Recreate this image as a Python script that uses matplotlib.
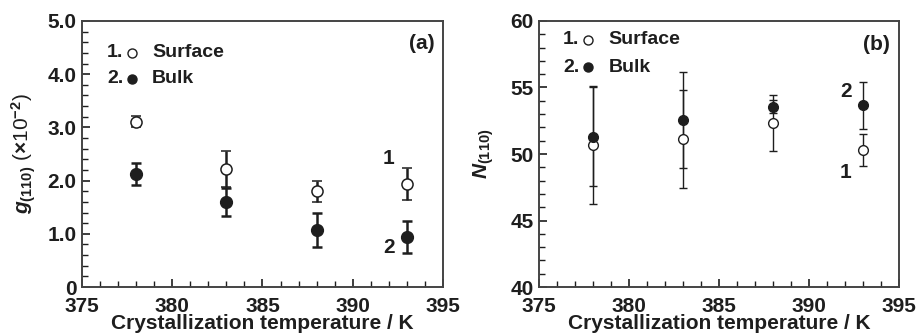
import matplotlib
matplotlib.use('Agg')
import matplotlib.pyplot as plt
from matplotlib.ticker import MultipleLocator

plt.rcParams['font.family'] = 'Liberation Sans'
plt.rcParams['font.weight'] = 'bold'
plt.rcParams['mathtext.fontset'] = 'custom'
plt.rcParams['mathtext.rm'] = 'Liberation Sans:bold'
plt.rcParams['mathtext.it'] = 'Liberation Sans:italic:bold'

temps = [378, 383, 388, 393]

# panel (a): g(110) x 10^-2
g_surface = [3.11, 2.22, 1.80, 1.93]
g_surface_err = [0.10, 0.34, 0.20, 0.30]
g_bulk = [2.13, 1.60, 1.07, 0.94]
g_bulk_err = [0.21, 0.27, 0.32, 0.30]

# panel (b): N(110)
n_surface = [50.70, 51.12, 52.35, 50.32]
n_surface_err = [4.45, 3.70, 2.10, 1.20]
n_bulk = [51.30, 52.55, 53.56, 53.66]
n_bulk_err = [3.70, 3.60, 0.50, 1.75]

col = '#1e1e1e'
fig = plt.figure(figsize=(9.17, 3.33), dpi=100)
axA = fig.add_axes([0.0894, 0.138, 0.3937, 0.799])
axB = fig.add_axes([0.5878, 0.138, 0.3926, 0.799])


def style(ax):
    ax.set_xlim(375, 395)
    ax.xaxis.set_major_locator(MultipleLocator(5))
    ax.xaxis.set_minor_locator(MultipleLocator(1))
    ax.tick_params(which='both', direction='in', top=False, right=False,
                   colors=col, labelsize=15)
    ax.tick_params(axis='x', pad=7)
    ax.tick_params(axis='y', pad=4)
    ax.tick_params(which='major', length=6, width=1.2)
    ax.tick_params(which='minor', length=4, width=1.0)
    for s in ax.spines.values():
        s.set_color('#444444')
        s.set_linewidth(1.4)
    ax.set_xlabel('Crystallization temperature / K', fontsize=15,
                  fontweight='bold', color=col)
    ax.xaxis.set_label_coords(0.5, -0.103)


# (a)
axA.errorbar(temps, g_surface, yerr=g_surface_err, fmt='o', mfc='white',
             mec=col, ecolor=col, ms=8, mew=1.1, elinewidth=1.8, capsize=3.5,
             capthick=1.8)
axA.errorbar(temps, g_bulk, yerr=g_bulk_err, fmt='o', mfc=col, mec=col,
             ecolor=col, ms=8.5, elinewidth=1.8, capsize=3.5, capthick=1.8)
style(axA)
axA.set_ylim(0, 5)
axA.yaxis.set_minor_locator(MultipleLocator(0.2))
axA.set_yticks([0, 1, 2, 3, 4, 5])
axA.set_yticklabels(['0', '1.0', '2.0', '3.0', '4.0', '5.0'])
axA.set_ylabel(r'$g_{(110)}$' + ' (' + r'$\times$' + '10$^{-2}$)', fontsize=15,
               color=col, labelpad=7)
axA.text(0.978, 0.917, '(a)', transform=axA.transAxes, ha='right',
         va='center', fontsize=15, color=col)
axA.text(392.0, 2.42, '1', ha='center', va='center', fontsize=15, color=col)
axA.text(392.0, 0.75, '2', ha='center', va='center', fontsize=15, color=col)

# (b)
axB.errorbar(temps, n_surface, yerr=n_surface_err, fmt='o', mfc='white',
             mec=col, ecolor=col, ms=7, mew=1.0, elinewidth=1.0, capsize=3,
             capthick=1.0)
axB.errorbar(temps, n_bulk, yerr=n_bulk_err, fmt='o', mfc=col, mec=col,
             ecolor=col, ms=7, elinewidth=1.0, capsize=3, capthick=1.0)
style(axB)
axB.set_ylim(40, 60)
axB.yaxis.set_major_locator(MultipleLocator(5))
axB.yaxis.set_minor_locator(MultipleLocator(1))
axB.set_ylabel(r'$N_{(110)}$', fontsize=15, color=col, labelpad=10)
axB.text(0.975, 0.91, '(b)', transform=axB.transAxes, ha='right',
         va='center', fontsize=15, color=col)
axB.text(392.05, 54.7, '2', ha='center', va='center', fontsize=15, color=col)
axB.text(392.05, 48.6, '1', ha='center', va='center', fontsize=15, color=col)

# legends built by hand: "1. o Surface" / "2. • Bulk"
for ax, xs, ys in [(axA, (0.069, 0.139, 0.194), (0.88, 0.782)),
                   (axB, (0.067, 0.136, 0.194), (0.929, 0.827))]:
    ax.text(xs[0], ys[0], '1.', transform=ax.transAxes, ha='left',
            va='center', fontsize=14, color=col)
    ax.text(xs[0], ys[1], '2.', transform=ax.transAxes, ha='left',
            va='center', fontsize=14, color=col)
    ax.plot([xs[1]], [ys[0]], 'o', transform=ax.transAxes, mfc='white',
            mec=col, ms=6.5, mew=1.0, clip_on=False)
    ax.plot([xs[1]], [ys[1]], 'o', transform=ax.transAxes, mfc=col,
            mec=col, ms=6.5, clip_on=False)
    ax.text(xs[2], ys[0], 'Surface', transform=ax.transAxes, ha='left',
            va='center', fontsize=14, color=col)
    ax.text(xs[2], ys[1], 'Bulk', transform=ax.transAxes, ha='left',
            va='center', fontsize=14, color=col)

fig.savefig('out.png', dpi=100)
